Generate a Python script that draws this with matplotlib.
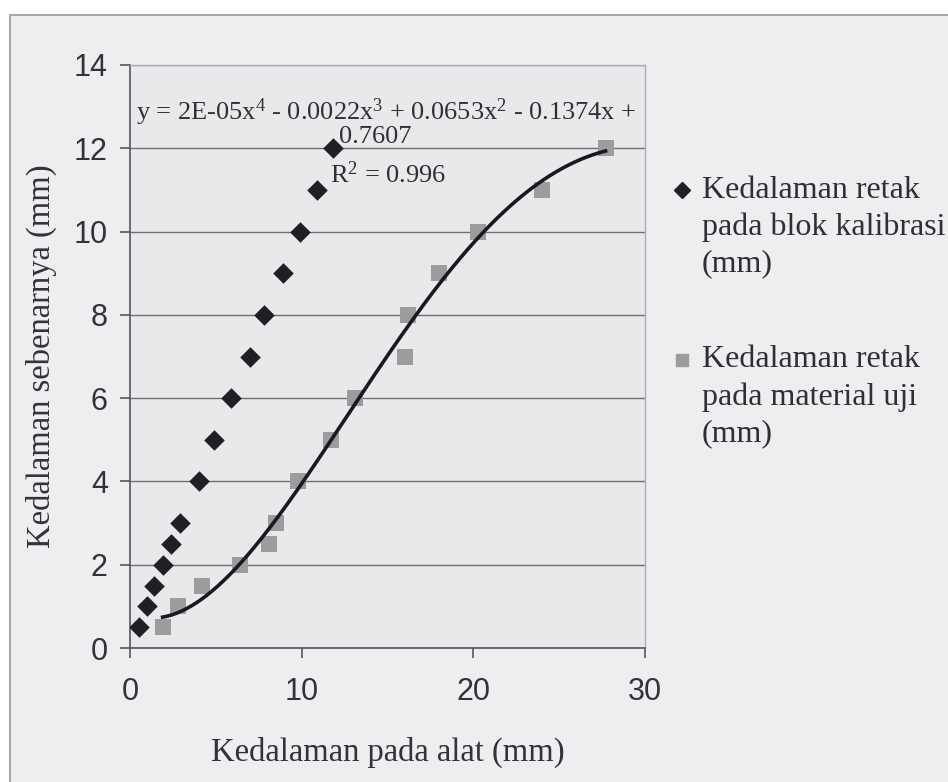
import numpy as np
import matplotlib
matplotlib.use("Agg")
import matplotlib.pyplot as plt
from matplotlib.patches import Rectangle

plt.rcParams['mathtext.fontset'] = 'custom'
plt.rcParams['mathtext.rm'] = 'Liberation Serif'
plt.rcParams['mathtext.it'] = 'Liberation Serif:italic'

# Data
calib_x = [0.5, 1.0, 1.4, 1.9, 2.4, 2.9, 4.0, 4.9, 5.9, 7.0, 7.8, 8.9, 9.9, 10.9, 11.8]
calib_y = [0.5, 1.0, 1.5, 2.0, 2.5, 3.0, 4.0, 5.0, 6.0, 7.0, 8.0, 9.0, 10.0, 11.0, 12.0]
test_x = [1.9, 2.8, 4.2, 6.4, 8.1, 8.5, 9.8, 11.7, 13.1, 16.0, 16.2, 18.0, 20.3, 24.0, 27.7]
test_y = [0.5, 1.0, 1.5, 2.0, 2.5, 3.0, 4.0, 5.0, 6.0, 7.0, 8.0, 9.0, 10.0, 11.0, 12.0]
x_ticks = [0, 10, 20, 30]
y_ticks = [0, 2, 4, 6, 8, 10, 12, 14]
label_calib = ["Kedalaman retak", "pada blok kalibrasi", "(mm)"]
label_test = ["Kedalaman retak", "pada material uji", "(mm)"]
eq_line1 = r"y = 2E-05x$^{4}$ - 0.0022x$^{3}$ + 0.0653x$^{2}$ - 0.1374x +"
eq_line2 = "0.7607"
eq_line3 = r"R$^{2}$ = 0.996"

W, H = 948, 782
fig = plt.figure(figsize=(W / 100, H / 100), dpi=100)
fig.patch.set_facecolor('white')

# chart area background with border
chart_bg = Rectangle((10 / W, -0.1), 1.2, (H - 15) / H + 0.1, transform=fig.transFigure,
                     facecolor='#eeeef1', edgecolor='#a8a8a8', linewidth=1.5, zorder=-10)
fig.patches.append(chart_bg)

left, right, top, bottom = 130, 645, 65, 648
ax = fig.add_axes([left / W, (H - bottom) / H, (right - left) / W, (bottom - top) / H])
ax.set_zorder(2)
ax.set_facecolor('#e9e9ec')

serif = 'Liberation Serif'
sans = 'Liberation Sans'
c_dark = '#202024'
c_gray = '#9c9c9f'
c_text = '#303034'

ax.scatter(calib_x, calib_y, marker='D', s=110, color=c_dark, zorder=3, linewidths=0)
ax.scatter(test_x, test_y, marker='s', s=130, color=c_gray, zorder=3, linewidths=0)

coef = np.polyfit(test_x, test_y, 4)
xs = np.linspace(min(test_x), max(test_x), 300)
ax.plot(xs, np.polyval(coef, xs), color='#1a1a1e', lw=2.6, zorder=4)

ax.set_xlim(0, 30)
ax.set_ylim(0, 14)
ax.set_xticks(x_ticks)
ax.set_yticks(y_ticks)
ax.yaxis.grid(True, color='#6f6f73', lw=1.0)
ax.set_axisbelow(True)
for s in ['top', 'right']:
    ax.spines[s].set_color('#b0b0b4')
    ax.spines[s].set_linewidth(1.0)
for s in ['left', 'bottom']:
    ax.spines[s].set_color('#55555a')
    ax.spines[s].set_linewidth(1.2)
ax.tick_params(axis='both', direction='out', length=7, width=1.2, color='#55555a',
               labelsize=22, labelcolor='#333337')
ax.tick_params(axis='x', pad=14)
ax.tick_params(axis='y', pad=9)
for lbl in ax.get_xticklabels() + ax.get_yticklabels():
    lbl.set_fontfamily(sans)

ax.set_xlabel("Kedalaman pada alat (mm)", fontsize=23.5, fontfamily=serif, color='#333337', labelpad=21)
ax.set_ylabel("Kedalaman sebenarnya (mm)", fontsize=23.5, fontfamily=serif, color='#333337', labelpad=12)

fig.text(386 / W, 1 - 112 / H, eq_line1, ha='center', va='center',
         fontsize=19, fontfamily=serif, color=c_text, zorder=5)
fig.text(375 / W, 1 - 137 / H, eq_line2, ha='center', va='center',
         fontsize=19, fontfamily=serif, color=c_text, zorder=5)
fig.text(388 / W, 1 - 175 / H, eq_line3, ha='center', va='center',
         fontsize=19, fontfamily=serif, color=c_text, zorder=5)

# legend (manual, Excel-like wrapping)
leg_x_marker, leg_x_text = 682, 702
for marker, color, lines, y0 in [('D', c_dark, label_calib, 190),
                                  ('s', c_gray, label_test, 360)]:
    fig.lines.append(plt.Line2D([leg_x_marker / W], [1 - y0 / H], marker=marker,
                                markersize=8, color=color, linestyle='none',
                                transform=fig.transFigure))
    for i, line in enumerate(lines):
        fig.text(leg_x_text / W, 1 - (y0 + 37 * i) / H, line, ha='left', va='center',
                 fontsize=23, fontfamily=serif, color=c_text)

fig.savefig('out.png', dpi=100, facecolor=fig.get_facecolor())
